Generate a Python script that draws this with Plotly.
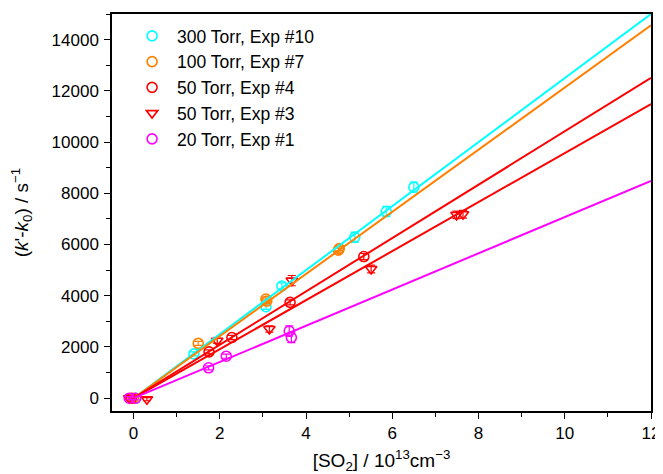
import plotly.graph_objects as go

# ---- data ----
labels = ["300 Torr, Exp #10", "100 Torr, Exp #7", "50 Torr, Exp #4", "50 Torr, Exp #3", "20 Torr, Exp #1"]

x300 = [0.05, 1.40, 3.07, 3.44, 5.13, 5.86, 6.50]
y300 = [0, 1730, 3570, 4380, 6285, 7290, 8240]
e300 = [60, 80, 100, 120, 200, 200, 200]

x100 = [0.0, 1.50, 3.07, 3.09, 4.75, 4.77]
y100 = [0, 2140, 3870, 3790, 5780, 5840]
e100 = [60, 80, 80, 80, 80, 80]

x50a = [-0.05, 1.75, 2.28, 3.63, 5.34]
y50a = [0, 1810, 2370, 3740, 5530]
e50a = [60, 80, 80, 100, 120]

x50b = [-0.1, 0.31, 1.94, 3.15, 3.67, 5.51, 7.49, 7.64]
y50b = [0, -40, 2240, 2700, 4590, 5045, 7157, 7180]
e50b = [60, 60, 100, 120, 200, 150, 150, 150]

x20 = [-0.1, 0.05, 1.74, 2.15, 3.61, 3.66]
y20 = [0, 0, 1186, 1640, 2620, 2370]
e20 = [60, 60, 80, 80, 200, 200]

slopes = [1250, 1213, 1042, 957, 707]
fit_x = [0, 12]

colors = ["#00FFFF", "#FF8000", "#FF0000", "#FF0000", "#FF00FF"]
symbols = ["circle-open", "circle-open", "circle-open", "triangle-down-open", "circle-open"]

series = [(x300, y300, e300), (x100, y100, e100), (x50a, y50a, e50a), (x50b, y50b, e50b), (x20, y20, e20)]

FONT = "Liberation Sans, Arial, sans-serif"

fig = go.Figure()

for i, (xs, ys, es) in enumerate(series):
    fig.add_trace(go.Scatter(
        x=xs, y=ys, mode="markers", name=labels[i],
        marker=dict(symbol=symbols[i], size=10, color=colors[i], line=dict(width=1.6, color=colors[i])),
        error_y=dict(type="data", array=es, visible=True, color=colors[i], thickness=1.2, width=4),
    ))

for i, s in enumerate(slopes):
    fig.add_trace(go.Scatter(
        x=fit_x, y=[s * v for v in fit_x], mode="lines", showlegend=False,
        line=dict(color=colors[i], width=2), hoverinfo="skip",
    ))

axis_common = dict(
    showline=True, linecolor="black", linewidth=1.5, mirror=True,
    ticks="outside", ticklen=6, tickwidth=1.2, tickcolor="black",
    showgrid=False, zeroline=False, automargin=False,
    tickfont=dict(family=FONT, size=17, color="black"),
)

fig.update_xaxes(
    range=[-0.5, 12], dtick=2, tick0=0,
    minor=dict(dtick=1, ticks="outside", ticklen=4, tickcolor="black", tickwidth=1.2),
    title=dict(text="[SO<sub>2</sub>] / 10<sup>13</sup>cm<sup>−3</sup>",
               font=dict(family=FONT, size=19, color="black"), standoff=12),
    **axis_common,
)
fig.update_yaxes(
    range=[-500, 15000], dtick=2000, tick0=0, tickformat="d", ticklabelstandoff=2,
    minor=dict(dtick=1000, ticks="outside", ticklen=4, tickcolor="black", tickwidth=1.2),
    title=dict(text="(<i>k</i>'-<i>k</i><sub>0</sub>) / s<sup>−1</sup>",
               font=dict(family=FONT, size=19, color="black"), standoff=19),
    **axis_common,
)

# the page body adds an 8px offset, so the figure is sized to the remaining window
fig.update_layout(
    width=655, height=466,
    margin=dict(l=104, r=12, t=6, b=63),
    plot_bgcolor="white", paper_bgcolor="white",
    showlegend=True,
    legend=dict(x=0.028, y=0.99, xanchor="left", yanchor="top", bgcolor="rgba(0,0,0,0)",
                font=dict(family=FONT, size=17.5, color="black"),
                itemwidth=40, tracegroupgap=0),
)

fig.write_html("out.html")
